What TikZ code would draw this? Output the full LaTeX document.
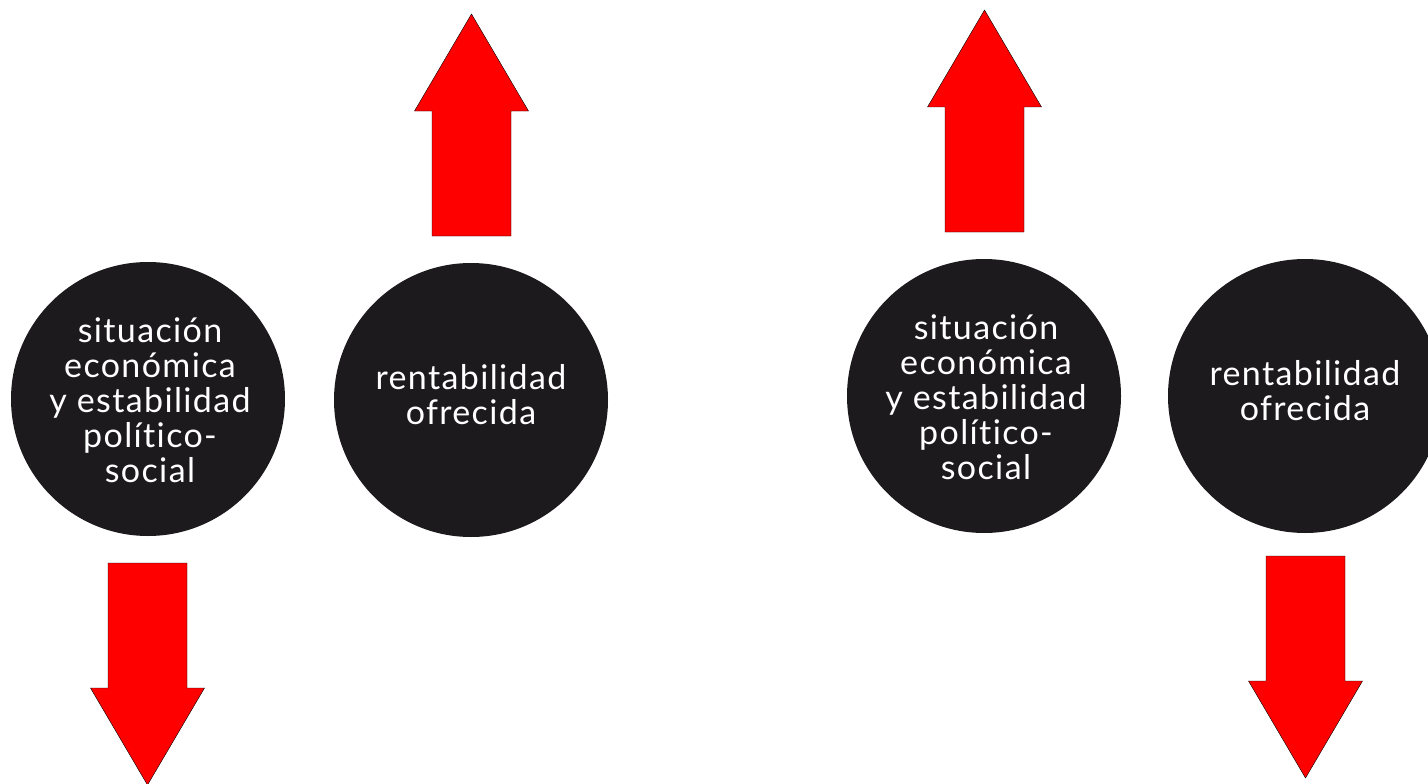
\documentclass[tikz,border=0pt]{standalone}
\usepackage{fontspec}
\setmainfont{Lato}[Ligatures={NoCommon}, LetterSpace=4]
\definecolor{ink}{HTML}{1C1A1D}
\definecolor{signal}{HTML}{FF0000}
\tikzset{
  disc/.style={circle, fill=ink, minimum size=274pt, inner sep=0pt},
  disctext/.style={inner sep=0pt, text=white, align=center,
    font=\fontsize{34}{35}\selectfont},
  arrowfill/.style={fill=signal, draw=black, line width=0.4pt, line join=miter},
  pics/fatarrow/.style={code={
    \path[arrowfill] (0,0) -- (57,97) -- (39.5,97) -- (39.5,222)
      -- (-39.5,222) -- (-39.5,97) -- (-57,97) -- cycle;}}
}
\begin{document}
\begin{tikzpicture}[x=1pt, y=-1pt]
\useasboundingbox (0,0) rectangle (1428,784);

% first pair
\node[disc] (sit1) at (148,399) {};
\node[disctext] (sit1t) at ([shift={(2,1)}]sit1.center)
  {situación\\económica\\y estabilidad\\político-\\social};
\node[disc] (ren1) at (471,400) {};
\node[disctext] (ren1t) at ([shift={(0,-5)}]ren1.center) {rentabilidad\\ofrecida};
\pic at (471.5,14) {fatarrow};
\pic[yscale=-1] at (147.5,785) {fatarrow};

% second pair
\node[disc] (sit2) at (984,396) {};
\node[disctext] (sit2t) at ([shift={(2,1)}]sit2.center)
  {situación\\económica\\y estabilidad\\político-\\social};
\node[disc] (ren2) at (1305,396) {};
\node[disctext] (ren2t) at ([shift={(0,-5)}]ren2.center) {rentabilidad\\ofrecida};
\pic at (984.5,10) {fatarrow};
\pic[yscale=-1] at (1305.5,778) {fatarrow};
\end{tikzpicture}
\end{document}
